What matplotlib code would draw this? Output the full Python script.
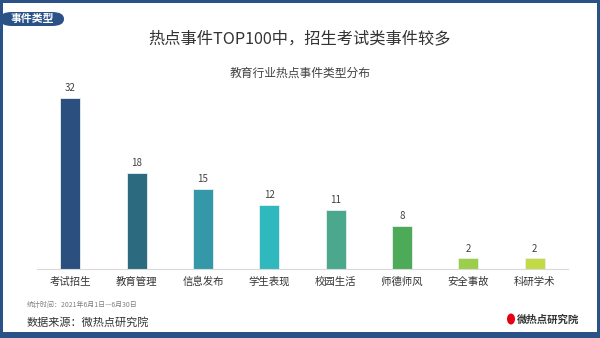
import matplotlib.pyplot as plt
from matplotlib.patches import FancyBboxPatch, Rectangle, Ellipse
import numpy as np

plt.rcParams["font.family"] = ["Noto Sans CJK SC", "DejaVu Sans"]

# data
categories = ["考试招生", "教育管理", "信息发布", "学生表现", "校园生活", "师德师风", "安全事故", "科研学术"]
counts = [32, 18, 15, 12, 11, 8, 2, 2]
colors = ["#2B4F7E", "#2C6A80", "#3598A8", "#2FB8BE", "#4BA88C", "#4CAA58", "#9CCE4C", "#C2DB44"]

frame_color = "#2B5287"

fig = plt.figure(figsize=(6, 3.38), dpi=100)

# outer frame
fig.patches.append(Rectangle((0, 0), 1, 6 / 338, transform=fig.transFigure,
                             facecolor=frame_color, edgecolor="none", zorder=5))
fig.patches.append(Rectangle((0, 1 - 3 / 338), 1, 3 / 338, transform=fig.transFigure,
                             facecolor=frame_color, edgecolor="none", zorder=5))
fig.patches.append(Rectangle((0, 0), 3 / 600, 1, transform=fig.transFigure,
                             facecolor=frame_color, edgecolor="none", zorder=5))
fig.patches.append(Rectangle((1 - 3 / 600, 0), 3 / 600, 1, transform=fig.transFigure,
                             facecolor=frame_color, edgecolor="none", zorder=5))

# tag label top-left
fig.patches.append(FancyBboxPatch((0.0, 1 - 26 / 338), 64 / 600, 14 / 338,
                                  boxstyle="round,pad=0,rounding_size=0.02",
                                  transform=fig.transFigure, facecolor=frame_color,
                                  edgecolor="none", zorder=4))
fig.text(11 / 600, 1 - 19 / 338, "事件类型", color="white", fontsize=7.8,
         fontweight="bold", va="center", ha="left", zorder=6)

# titles
fig.text(0.5, 1 - 39 / 338, "热点事件TOP100中，招生考试类事件较多", fontsize=11.7,
         color="#333333", ha="center", va="center")
fig.text(0.5, 1 - 73 / 338, "教育行业热点事件类型分布", fontsize=8.5,
         color="#404040", ha="center", va="center")

# chart
ax = fig.add_axes([37 / 600, (338 - 269) / 338, 531 / 600, 180 / 338])
x = np.arange(len(categories))
ax.bar(x, counts, width=0.3, color=colors, edgecolor="#E8F0F0", linewidth=0.6)
for xi, v in zip(x, counts):
    ax.text(xi, v + 0.9, str(v), ha="center", va="bottom", fontsize=7,
            color="#404040")

ax.set_xlim(-0.5, len(categories) - 0.5)
ax.set_ylim(0, 180 / 5.34)
ax.set_xticks(x)
ax.set_xticklabels(categories, fontsize=7.5, color="#333333")
for lbl in ax.get_xticklabels():
    lbl.set_verticalalignment("baseline")
ax.tick_params(axis="x", length=0, pad=11.5)
ax.set_yticks([])
for s in ["top", "right", "left"]:
    ax.spines[s].set_visible(False)
ax.spines["bottom"].set_color("#D9D9D9")
ax.spines["bottom"].set_linewidth(0.8)

# footnotes
fig.text(27 / 600, 1 - 305 / 338, "统计时间：2021年6月1日—6月30日", fontsize=5,
         color="#7F7F7F", ha="left", va="center")
fig.text(27 / 600, 1 - 322 / 338, "数据来源：微热点研究院", fontsize=8,
         color="#333333", ha="left", va="center")

# logo
fig.patches.append(Ellipse((511 / 600, 1 - 319 / 338), 8 / 600, 11 / 338,
                           transform=fig.transFigure, facecolor="#E60012",
                           edgecolor="none", zorder=4))
fig.text(517 / 600, 1 - 320 / 338, "微热点研究院", fontsize=7.5, fontweight="bold",
         color="#333333", ha="left", va="center")

fig.savefig("out.png", dpi=100)
